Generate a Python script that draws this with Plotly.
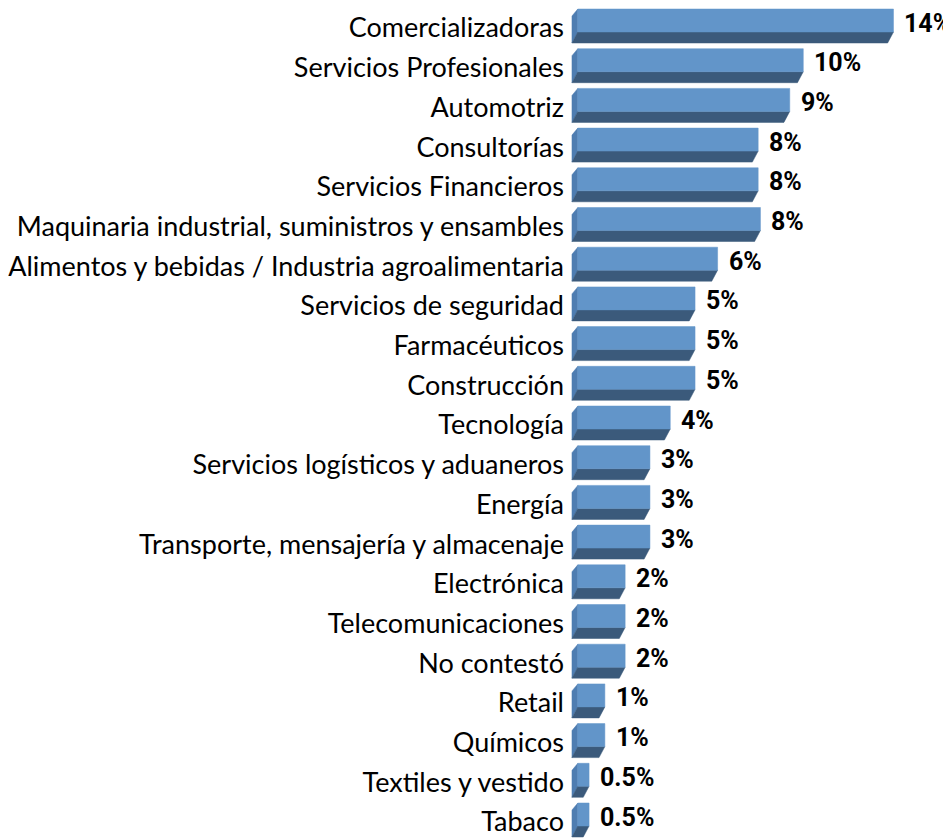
import plotly.graph_objects as go

# Datos
categorias = [
    "Comercializadoras", "Servicios Profesionales", "Automotriz", "Consultorías",
    "Servicios Financieros", "Maquinaria industrial, suministros y ensambles",
    "Alimentos y bebidas / Industria agroalimentaria", "Servicios de seguridad",
    "Farmacéuticos", "Construcción", "Tecnología", "Servicios logísticos y aduaneros",
    "Energía", "Transporte, mensajería y almacenaje", "Electrónica",
    "Telecomunicaciones", "No contestó", "Retail", "Químicos",
    "Textiles y vestido", "Tabaco",
]
valores = [14.0, 10.0, 9.4, 8.0, 8.0, 8.1, 6.2, 5.2, 5.2, 5.2, 4.1,
           3.2, 3.2, 3.2, 2.1, 2.1, 2.1, 1.2, 1.2, 0.5, 0.5]
etiquetas = ["14%", "10%", "9%", "8%", "8%", "8%", "6%", "5%", "5%", "5%", "4%",
             "3%", "3%", "3%", "2%", "2%", "2%", "1%", "1%", "0.5%", "0.5%"]

# Escalas (pixeles por unidad); la página añade 8px de margen al cuerpo
OFF = 8
W, H = 951 - OFF, 839 - OFF
ML = 560 - OFF
PX_X = 23.2
PX_Y = 39.7
x0 = -(567 - 560) / PX_X
x_range = [x0, x0 + (W - ML) / PX_X]
y_range = [(H - (28 - OFF)) / PX_Y, -(28 - OFF) / PX_Y]

top = -19 / PX_Y      # borde superior cara frontal
fb = 4 / PX_Y         # borde inferior cara frontal
db = 15 / PX_Y        # borde inferior cara de abajo
d = 6 / PX_X          # profundidad horizontal
s = 7 / PX_Y          # inclinación cara lateral

fx, fy, bx, by, lx, ly = [], [], [], [], [], []
for i, v in enumerate(valores):
    fx += [0, v, v, 0, 0, None]
    fy += [i + top, i + top, i + fb, i + fb, i + top, None]
    bx += [0, v, v - d, -d, 0, None]
    by += [i + fb, i + fb, i + db, i + db, i + fb, None]
    lx += [0, -d, -d, 0, 0, None]
    ly += [i + top, i + top + s, i + db, i + fb, i + top, None]

fig = go.Figure()
for xs, ys, col in [(lx, ly, "#4e7db1"), (bx, by, "#3b5a7b"), (fx, fy, "#6295c9")]:
    fig.add_trace(go.Scatter(
        x=xs, y=ys, mode="lines", fill="toself", fillcolor=col,
        line=dict(color=col, width=0.5), hoverinfo="skip", showlegend=False,
    ))

for i, (v, t) in enumerate(zip(valores, etiquetas)):
    fig.add_annotation(
        x=v, y=i, text=t,
        showarrow=False, xanchor="left", yanchor="middle",
        xshift=9, yshift=5,
        font=dict(family="Roboto", size=25, color="black", weight="bold"),
    )

fig.update_layout(
    width=W, height=H,
    margin=dict(l=ML, r=0, t=0, b=0),
    paper_bgcolor="white", plot_bgcolor="white",
    xaxis=dict(range=x_range, visible=False, fixedrange=True),
    yaxis=dict(
        range=y_range, tickvals=list(range(len(categorias))), ticktext=categorias,
        showgrid=False, zeroline=False, showline=False, ticks="",
        ticklabelstandoff=6,
        tickfont=dict(family="Lato, Open Sans", size=27, color="black"),
    ),
    showlegend=False,
)

fig.write_html("out.html")
